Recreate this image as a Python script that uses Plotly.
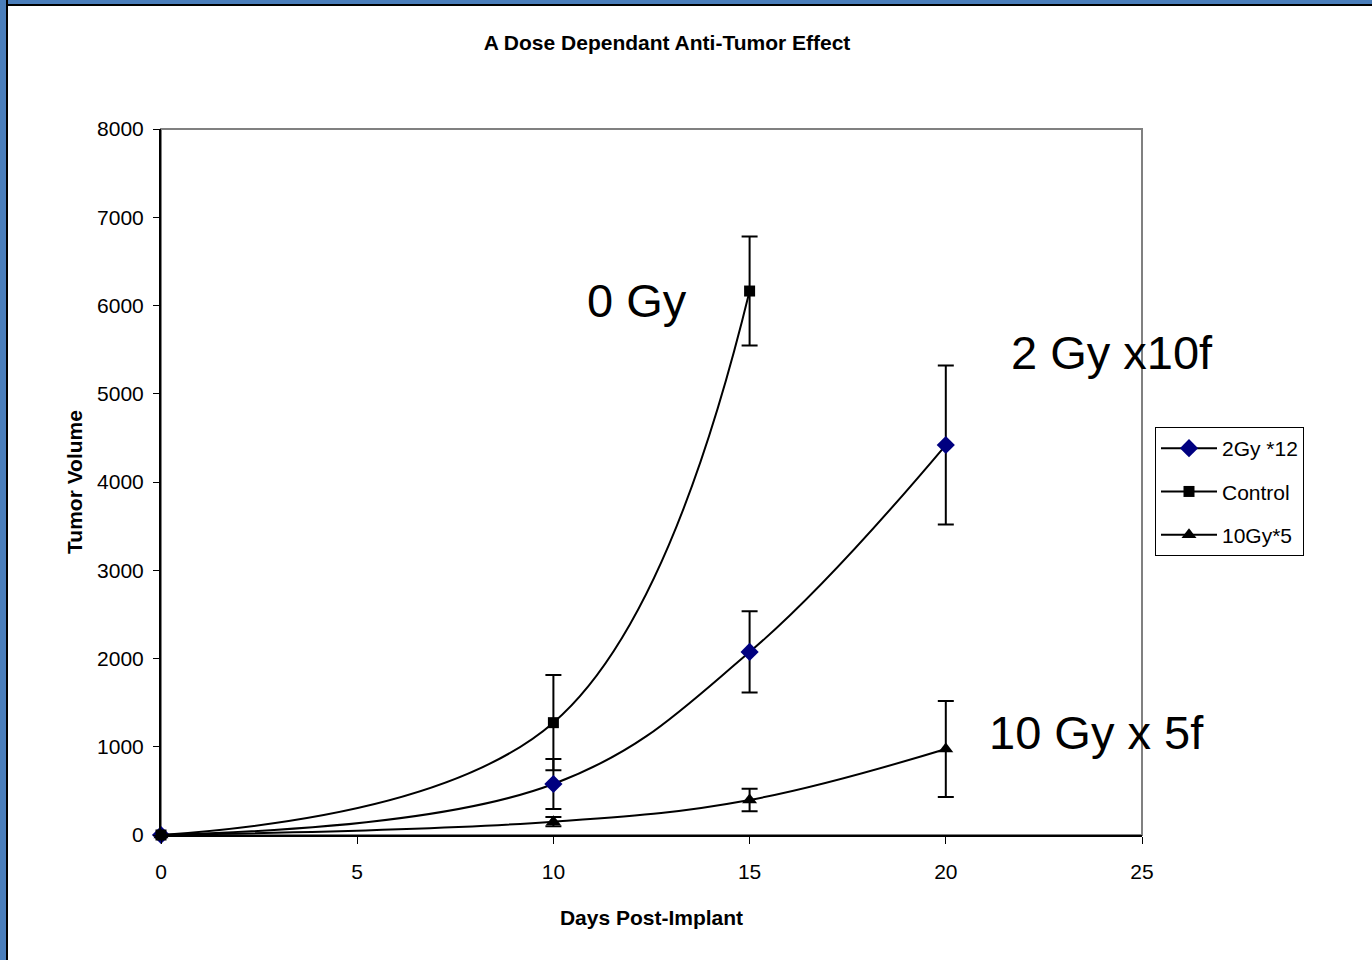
import plotly.graph_objects as go

# ---- data ----
days_2gy = [0, 10, 15, 20]
vol_2gy = [0, 578, 2074, 4419]
err_2gy = [0, 283, 460, 900]

days_ctrl = [0, 10, 15]
vol_ctrl = [0, 1273, 6164]
err_ctrl = [0, 540, 618]

days_10gy = [0, 10, 15, 20]
vol_10gy = [0, 151, 397, 975]
err_10gy = [0, 53, 127, 544]

series_names = ["2Gy *12", "Control", "10Gy*5"]
labels = [("0 Gy", 12.13, 6060), ("2 Gy x10f", 24.24, 5470), ("10 Gy x 5f", 23.85, 1156)]

FONT = "Liberation Sans, Arial, sans-serif"
W, H = 1372, 960
L, R, T, B = 161, 1142, 129, 835


def px2x(px):
    return (px - L) / (R - L)


def py2y(py):
    return (B - py) / (B - T)


fig = go.Figure()

def add_series(x, y, e, name, symbol, size, mcolor):
    fig.add_trace(go.Scatter(
        x=x, y=y, name=name, mode="lines+markers",
        line=dict(color="black", width=2, shape="spline", smoothing=1.1),
        marker=dict(symbol=symbol, size=size, color=mcolor,
                    line=dict(width=0)),
        error_y=dict(type="data", array=e, visible=True, color="black",
                     thickness=2, width=8),
        legendgroup=name,
        cliponaxis=False,
    ))

add_series(days_2gy, vol_2gy, err_2gy, series_names[0], "diamond", 14, "#000080")
add_series(days_ctrl, vol_ctrl, err_ctrl, series_names[1], "square", 11, "black")
add_series(days_10gy, vol_10gy, err_10gy, series_names[2], "triangle-up", 13, "black")

shapes = [
    # plot area border (grey top/right)
    dict(type="rect", xref="paper", yref="paper", x0=0, y0=0, x1=1, y1=1,
         line=dict(color="#808080", width=2), layer="below"),
    # outer frame: blue band top & left, black inner line
    dict(type="rect", xref="paper", yref="paper", x0=px2x(0), x1=px2x(W),
         y0=py2y(0), y1=py2y(6), fillcolor="black", line=dict(width=0), layer="above"),
    dict(type="rect", xref="paper", yref="paper", x0=px2x(0), x1=px2x(W),
         y0=py2y(0), y1=py2y(4), fillcolor="#4a7ebb", line=dict(width=0), layer="above"),
    dict(type="rect", xref="paper", yref="paper", x0=px2x(0), x1=px2x(8),
         y0=py2y(0), y1=py2y(H), fillcolor="black", line=dict(width=0), layer="above"),
    dict(type="rect", xref="paper", yref="paper", x0=px2x(0), x1=px2x(6),
         y0=py2y(0), y1=py2y(H), fillcolor="#4a7ebb", line=dict(width=0), layer="above"),
]

annotations = [
    dict(text=t, x=xv, y=yv, xref="x", yref="y", showarrow=False,
         font=dict(family=FONT, size=47, color="black"),
         xanchor="center", yanchor="middle")
    for (t, xv, yv) in labels
]

fig.update_layout(
    width=W, height=H,
    margin=dict(l=L, r=W - R, t=T, b=H - B, autoexpand=False),
    paper_bgcolor="white", plot_bgcolor="white",
    font=dict(family=FONT, color="black", size=21),
    title=dict(text="<b>A Dose Dependant Anti-Tumor Effect</b>",
               x=667 / W, xanchor="center", xref="container",
               y=1 - 43 / H, yanchor="middle", yref="container",
               font=dict(family=FONT, size=21, color="black")),
    xaxis=dict(range=[0, 25], dtick=5, tick0=0, showgrid=False, zeroline=False,
               showline=True, linecolor="black", linewidth=2,
               ticks="outside", ticklen=7, tickwidth=1, tickcolor="black",
               ticklabelstandoff=10,
               tickfont=dict(size=21, family=FONT, color="black"),
               title=dict(text="<b>Days Post-Implant</b>", standoff=28,
                          font=dict(size=21, family=FONT, color="black"))),
    yaxis=dict(range=[0, 8000], dtick=1000, tick0=0, showgrid=False, zeroline=False,
               showline=True, linecolor="black", linewidth=2,
               ticks="outside", ticklen=6, tickwidth=1, tickcolor="black",
               ticklabelstandoff=5,
               tickfont=dict(size=21, family=FONT, color="black"),
               title=dict(text="<b>Tumor Volume</b>", standoff=9,
                          font=dict(size=21, family=FONT, color="black"))),
    legend=dict(x=px2x(1155), y=py2y(427), xanchor="left", yanchor="top",
                bgcolor="white", bordercolor="black", borderwidth=1,
                font=dict(size=21, family=FONT, color="black"),
                tracegroupgap=13, itemwidth=56),
    shapes=shapes,
    annotations=annotations,
    showlegend=True,
)

fig.write_html("out.html", config={"displayModeBar": False},
               post_script="document.body.style.margin='0';document.body.style.overflow='hidden';")
